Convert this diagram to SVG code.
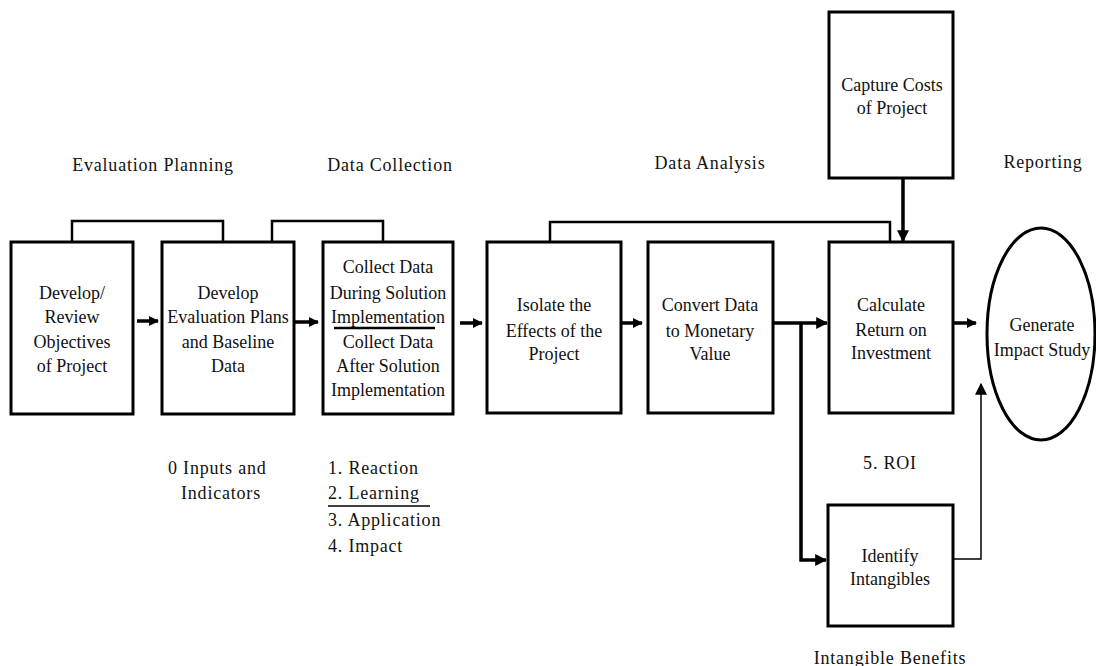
<svg xmlns="http://www.w3.org/2000/svg" width="1096" height="666" viewBox="0 0 1096 666">
<defs>
<style>
text{font-family:"Liberation Serif","Times New Roman",serif;font-size:18px;fill:#111;text-anchor:middle}
.lb{letter-spacing:0.8px}
.l{text-anchor:start}
.box{fill:#fff;stroke:#000;stroke-width:3}
.br{fill:none;stroke:#000;stroke-width:2.5}
.ar{fill:none;stroke:#000;stroke-width:3.5}
.thin{fill:none;stroke:#000;stroke-width:1.5}
</style>
<marker id="ah" viewBox="0 0 10 10" refX="9" refY="5" markerWidth="10" markerHeight="10" markerUnits="userSpaceOnUse" orient="auto"><path d="M0,0 L10,5 L0,10 z" fill="#000"/></marker>
<marker id="ah2" viewBox="0 0 10 10" refX="9" refY="5" markerWidth="12" markerHeight="12" markerUnits="userSpaceOnUse" orient="auto"><path d="M0,0 L10,5 L0,10 z" fill="#000"/></marker>
</defs>
<rect width="1096" height="666" fill="#fff"/>

<g id="labels">
<text class="lb" x="153" y="171">Evaluation Planning</text>
<text class="lb" x="390" y="171">Data Collection</text>
<text class="lb" x="710" y="169">Data Analysis</text>
<text class="lb" x="1043" y="168">Reporting</text>
<text class="lb" x="890" y="469">5. ROI</text>
<text class="lb" x="890" y="664">Intangible Benefits</text>
<text class="l lb" x="168" y="474">0 Inputs and</text>
<text class="l lb" x="181" y="499">Indicators</text>
<text class="l lb" x="328" y="474">1. Reaction</text>
<text class="l lb" x="328" y="499">2. Learning</text>
<text class="l lb" x="328" y="526">3. Application</text>
<text class="l lb" x="328" y="552">4. Impact</text>
<line x1="328" y1="506" x2="430" y2="506" stroke="#000" stroke-width="1.5"/>
</g>

<g id="connectors">
<path class="br" d="M72,242 V221 H223 V242"/>
<path class="br" d="M272,242 V221 H383 V242"/>
<path class="br" d="M550,242 V222 H890 V242"/>
<line class="ar" x1="137" y1="321" x2="158" y2="321" marker-end="url(#ah)"/>
<line class="ar" x1="295" y1="322" x2="318" y2="322" marker-end="url(#ah)"/>
<line class="ar" x1="460" y1="323" x2="482" y2="323" marker-end="url(#ah)"/>
<line class="ar" x1="622" y1="323" x2="642" y2="323" marker-end="url(#ah)"/>
<line class="ar" x1="773" y1="323" x2="827" y2="323" marker-end="url(#ah2)"/>
<path class="ar" d="M801,323 V560 H826" marker-end="url(#ah2)"/>
<line class="ar" x1="954" y1="323" x2="976" y2="323" marker-end="url(#ah)"/>
<line class="ar" x1="903" y1="178" x2="903" y2="241" stroke-width="4.5" marker-end="url(#ah2)"/>
<path class="thin" d="M953,559 H981 V384" marker-end="url(#ah2)"/>
</g>

<g id="n1">
<rect class="box" x="11" y="242" width="122" height="172"/>
<text x="72" y="299">Develop/</text>
<text x="72" y="323">Review</text>
<text x="72" y="348">Objectives</text>
<text x="72" y="372">of Project</text>
</g>

<g id="n2">
<rect class="box" x="162" y="242" width="132" height="172"/>
<text x="228" y="299">Develop</text>
<text x="228" y="323">Evaluation Plans</text>
<text x="228" y="348">and Baseline</text>
<text x="228" y="372">Data</text>
</g>

<g id="n3">
<rect class="box" x="323" y="242" width="130" height="172" stroke-width="3.5"/>
<text x="388" y="273">Collect Data</text>
<text x="388" y="299">During Solution</text>
<text x="388" y="323">Implementation</text>
<line x1="334" y1="328" x2="435" y2="328" stroke="#000" stroke-width="2.5"/>
<text x="388" y="348">Collect Data</text>
<text x="388" y="372">After Solution</text>
<text x="388" y="396">Implementation</text>
</g>

<g id="n4">
<rect class="box" x="487" y="242" width="134" height="171"/>
<text x="554" y="311">Isolate the</text>
<text x="554" y="337">Effects of the</text>
<text x="554" y="360">Project</text>
</g>

<g id="n5">
<rect class="box" x="648" y="242" width="125" height="171"/>
<text x="710" y="311">Convert Data</text>
<text x="710" y="337">to Monetary</text>
<text x="710" y="360">Value</text>
</g>

<g id="n6">
<rect class="box" x="829" y="242" width="124" height="171"/>
<text x="891" y="311">Calculate</text>
<text x="891" y="336">Return on</text>
<text x="891" y="359">Investment</text>
</g>

<g id="n7">
<rect class="box" x="829" y="12" width="124" height="166"/>
<text x="892" y="91">Capture Costs</text>
<text x="892" y="114">of Project</text>
</g>

<g id="n8">
<rect class="box" x="828" y="505" width="125" height="121"/>
<text x="890" y="562">Identify</text>
<text x="890" y="585">Intangibles</text>
</g>

<g id="n9">
<ellipse cx="1041" cy="334" rx="54" ry="106" fill="#fff" stroke="#000" stroke-width="3"/>
<text x="1042" y="331">Generate</text>
<text x="1042" y="356">Impact Study</text>
</g>
</svg>
